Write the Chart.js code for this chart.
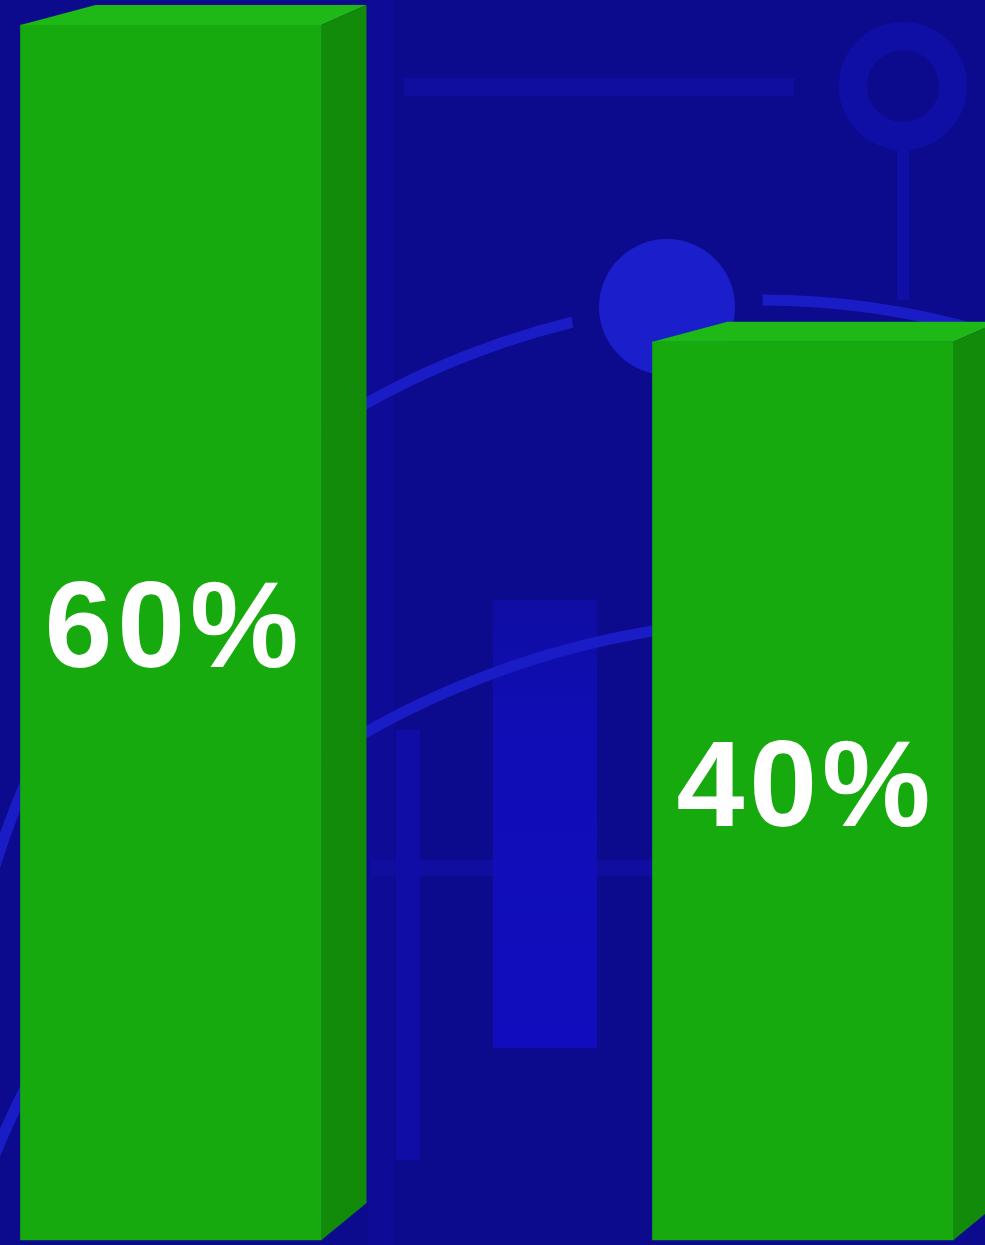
<!DOCTYPE html>
<html lang="en">
<head>
    <meta charset="UTF-8">
    <title>60% / 40%</title>
    <script src="https://cdn.jsdelivr.net/npm/chart.js"></script>
    <style>
        html, body {
            margin: 0;
            padding: 0;
            background-color: #0d0b8d;
        }
        .chart-container {
            position: relative;
            width: 985px;
            height: 1245px;
        }
    </style>
</head>
<body>
    <div class="chart-container">
        <canvas id="barChart"></canvas>
    </div>

    <script>
        // Dados do gráfico
        const categories = ['A', 'B'];
        const shares = [60, 40];
        const shareLabels = ['60%', '40%'];
        // the picture is not drawn from zero, the floor sits below it
        const axisFloor = -16.7;
        const axisTop = 60;

        const bgColor = '#0d0b8d';
        const frontColor = '#17aa0e';
        const topColor = '#1eb817';
        const sideColor = '#138b0a';

        // fundo com os enfeites azuis
        const backdrop = {
            id: 'backdrop',
            beforeDraw(chart) {
                const ctx = chart.ctx;
                ctx.save();
                ctx.fillStyle = bgColor;
                ctx.fillRect(0, 0, chart.width, chart.height);

                // faint panels
                ctx.fillStyle = '#0e0c97';
                ctx.fillRect(368, 0, 26, chart.height);
                ctx.fillStyle = '#0f0e9f';
                ctx.fillRect(404, 78, 390, 18);
                ctx.fillRect(370, 860, 283, 16);
                ctx.fillStyle = '#0f0da6';
                ctx.fillRect(396, 730, 24, 430);
                const g = ctx.createLinearGradient(0, 600, 0, 1050);
                g.addColorStop(0, '#0f0da3');
                g.addColorStop(0.3, '#100db6');
                g.addColorStop(1, '#110dbe');
                ctx.fillStyle = g;
                ctx.fillRect(493, 600, 104, 448);

                // ring + stem
                ctx.strokeStyle = '#0f0fa6';
                ctx.lineWidth = 28;
                ctx.beginPath();
                ctx.arc(903, 86, 50, 0, Math.PI * 2);
                ctx.stroke();
                ctx.lineWidth = 12;
                ctx.beginPath();
                ctx.moveTo(903, 150);
                ctx.lineTo(903, 300);
                ctx.stroke();

                // big arcs
                ctx.strokeStyle = '#1a1dc6';
                ctx.lineWidth = 11;
                ctx.beginPath();
                ctx.arc(760, 1100, 800, Math.PI, Math.PI * 2);
                ctx.stroke();
                ctx.beginPath();
                ctx.arc(791, 1480, 860, Math.PI, Math.PI * 2);
                ctx.stroke();

                // node on the arc
                ctx.fillStyle = bgColor;
                ctx.beginPath();
                ctx.arc(667, 307, 96, 0, Math.PI * 2);
                ctx.fill();
                ctx.fillStyle = '#1b1fcb';
                ctx.beginPath();
                ctx.arc(667, 307, 68, 0, Math.PI * 2);
                ctx.fill();
                ctx.restore();
            }
        };

        // topo e lateral das barras + rótulos
        const boxes = {
            id: 'boxes',
            afterDatasetsDraw(chart) {
                const ctx = chart.ctx;
                const meta = chart.getDatasetMeta(0);
                ctx.save();
                meta.data.forEach((bar, i) => {
                    const p = bar.getProps(['x', 'y', 'base', 'width'], true);
                    const l = p.x - p.width / 2;
                    const r = p.x + p.width / 2;

                    ctx.fillStyle = topColor;
                    ctx.beginPath();
                    ctx.moveTo(l, p.y);
                    ctx.lineTo(l + 75, p.y - 20);
                    ctx.lineTo(r + 45, p.y - 20);
                    ctx.lineTo(r, p.y);
                    ctx.closePath();
                    ctx.fill();

                    ctx.fillStyle = sideColor;
                    ctx.beginPath();
                    ctx.moveTo(r, p.y);
                    ctx.lineTo(r + 45, p.y - 20);
                    ctx.lineTo(r + 45, p.base - 37);
                    ctx.lineTo(r, p.base);
                    ctx.closePath();
                    ctx.fill();

                    ctx.fillStyle = '#ffffff';
                    ctx.font = 'bold 122px "Liberation Sans"';
                    ctx.letterSpacing = '5px';
                    ctx.textAlign = 'center';
                    ctx.textBaseline = 'middle';
                    ctx.fillText(shareLabels[i], p.x + 3, (p.y + p.base) / 2 + 1);
                });
                ctx.restore();
            }
        };

        const barCtx = document.getElementById('barChart').getContext('2d');
        new Chart(barCtx, {
            type: 'bar',
            data: {
                labels: categories,
                datasets: [{
                    data: shares,
                    base: axisFloor,
                    backgroundColor: frontColor,
                    borderWidth: 0,
                    barThickness: 301,
                    clip: false
                }]
            },
            options: {
                responsive: true,
                maintainAspectRatio: false,
                animation: false,
                layout: {
                    padding: { left: 171, right: 182, top: 25, bottom: 5 }
                },
                scales: {
                    x: { display: false, offset: false },
                    y: { display: false, min: axisFloor, max: axisTop }
                },
                plugins: {
                    legend: { display: false },
                    tooltip: { enabled: false }
                }
            },
            plugins: [backdrop, boxes]
        });
    </script>
</body>
</html>
